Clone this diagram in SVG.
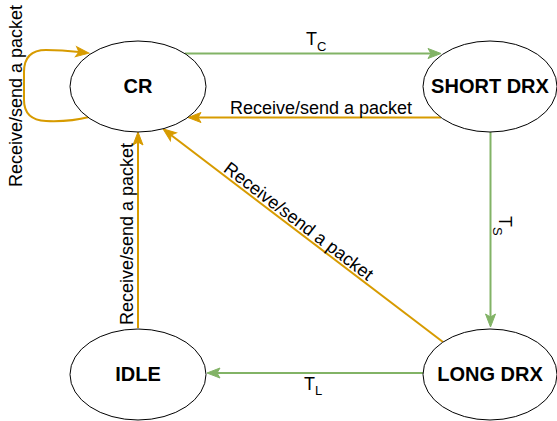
<svg xmlns="http://www.w3.org/2000/svg" width="557" height="421" viewBox="0 0 557 421">
<style>
.node{fill:#ffffff;stroke:#000000;stroke-width:1}
.nl{font-family:"Liberation Sans",Arial,sans-serif;font-size:20px;font-weight:bold;fill:#000;text-anchor:middle;dominant-baseline:central}
.el{font-family:"Liberation Sans",Arial,sans-serif;font-size:18px;fill:#000}
.sub{font-size:13px}
.g{fill:none;stroke:#82b366;stroke-width:2}
.o{fill:none;stroke:#d79b00;stroke-width:2}
</style>
<defs>
<marker id="ag" markerUnits="userSpaceOnUse" markerWidth="14" markerHeight="12" refX="3" refY="5" orient="auto" overflow="visible">
<path d="M0,0 L13,5 L0,10 L3,5 Z" fill="#82b366" stroke="#82b366" stroke-width="1"/>
</marker>
<marker id="ao" markerUnits="userSpaceOnUse" markerWidth="14" markerHeight="12" refX="3" refY="5" orient="auto" overflow="visible">
<path d="M0,0 L13,5 L0,10 L3,5 Z" fill="#d79b00" stroke="#d79b00" stroke-width="1"/>
</marker>
</defs>
<g id="connectors">
<path class="g" d="M185,53.5 L431,53.5" marker-end="url(#ag)"/>
<path class="o" d="M441,117.5 L198,117.5" marker-end="url(#ao)"/>
<path class="g" d="M490.5,132 L490.5,317" marker-end="url(#ag)"/>
<path class="g" d="M423,373 L217,373" marker-end="url(#ag)"/>
<path class="o" d="M138,328 L138,142" marker-end="url(#ao)"/>
<path class="o" d="M443,342 L171,135" marker-end="url(#ao)"/>
<path class="o" d="M89,117 Q70,122 46,121 Q24,120 24,100 L24,72 Q24,50 46,50 Q62,50 79,52" marker-end="url(#ao)"/>
<text class="el" x="306" y="45">T<tspan class="sub" dy="6">C</tspan></text>
<text class="el" x="321" y="114" text-anchor="middle">Receive/send a packet</text>
<text class="el" transform="translate(499,216) rotate(90)">T<tspan class="sub" dy="6">S</tspan></text>
<text class="el" x="304" y="390">T<tspan class="sub" dy="5">L</tspan></text>
<text class="el" transform="translate(133,234) rotate(-90)" text-anchor="middle">Receive/send a packet</text>
<text class="el" transform="translate(21.5,96) rotate(-90)" text-anchor="middle">Receive/send a packet</text>
<text class="el" transform="translate(295,226) rotate(37.3)" text-anchor="middle">Receive/send a packet</text>
</g>
<g id="cr"><ellipse class="node" cx="138" cy="86.5" rx="68" ry="45.5"/><text class="nl" x="138" y="86">CR</text></g>
<g id="short-drx"><ellipse class="node" cx="490" cy="86.5" rx="67" ry="45.5"/><text class="nl" x="490" y="86">SHORT DRX</text></g>
<g id="long-drx"><ellipse class="node" cx="490" cy="374.5" rx="67" ry="45.5"/><text class="nl" x="490" y="374">LONG DRX</text></g>
<g id="idle"><ellipse class="node" cx="138" cy="374.5" rx="68" ry="45.5"/><text class="nl" x="138" y="374">IDLE</text></g>
</svg>
